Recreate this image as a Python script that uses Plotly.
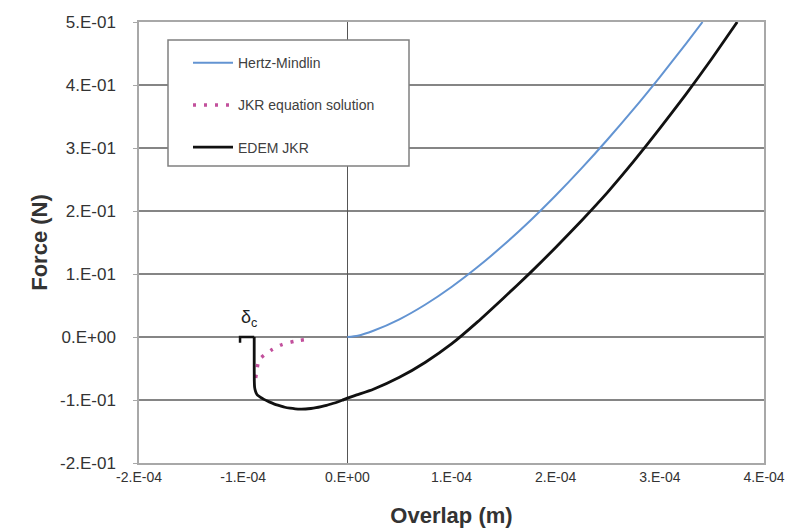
import plotly.graph_objects as go

# Overlap (m) and normal force (N) for each contact model
hertz_overlap = [0.0, 0.1e-4, 0.25e-4, 0.5e-4, 0.75e-4, 1.0e-4, 1.25e-4, 1.5e-4, 1.75e-4,
                 2.0e-4, 2.25e-4, 2.5e-4, 2.75e-4, 3.0e-4, 3.25e-4, 3.41e-4]
hertz_force = [0.0, 0.002, 0.0099, 0.0281, 0.0516, 0.0794, 0.111, 0.1459, 0.1838,
               0.2246, 0.268, 0.3139, 0.362, 0.4126, 0.4652, 0.5]

jkr_overlap = [-0.880e-4, -0.866e-4, -0.847e-4, -0.732e-4, -0.627e-4, -0.512e-4, -0.396e-4]
jkr_force = [-0.065, -0.050, -0.036, -0.021, -0.012, -0.007, -0.004]

edem_overlap = [-0.894e-4, -0.894e-4, -0.893e-4, -0.89e-4, -0.88e-4, -0.865e-4, -0.84e-4,
                -0.80e-4, -0.75e-4, -0.70e-4, -0.65e-4, -0.60e-4, -0.55e-4, -0.50e-4,
                -0.45e-4, -0.40e-4, -0.35e-4, -0.30e-4, -0.25e-4, -0.20e-4, -0.15e-4,
                -0.10e-4, -0.05e-4, 0.0, 0.1e-4, 0.25e-4, 0.5e-4, 0.75e-4, 1.0e-4,
                1.25e-4, 1.5e-4, 1.75e-4, 2.0e-4, 2.25e-4, 2.5e-4, 2.75e-4, 3.0e-4,
                3.25e-4, 3.5e-4, 3.743e-4]
edem_force = [0.0, -0.04, -0.07, -0.080, -0.087, -0.092, -0.095,
              -0.099, -0.103, -0.1065, -0.109, -0.1115, -0.113, -0.114,
              -0.1145, -0.1143, -0.1135, -0.1122, -0.1105, -0.1085, -0.106,
              -0.1035, -0.1005, -0.097, -0.0915, -0.083, -0.064, -0.040, -0.011,
              0.024, 0.062, 0.101, 0.142, 0.185, 0.230, 0.279, 0.331,
              0.385, 0.442, 0.5]

# Bracket marking the critical overlap delta_c
bracket_overlap = [-1.03e-4, -1.03e-4, -0.894e-4]
bracket_force = [-0.009, 0.0, 0.0]

x_ticks = [-2e-4, -1e-4, 0.0, 1e-4, 2e-4, 3e-4, 4e-4]
x_labels = ["-2.E-04", "-1.E-04", "0.E+00", "1.E-04", "2.E-04", "3.E-04", "4.E-04"]
y_ticks = [-0.2, -0.1, 0.0, 0.1, 0.2, 0.3, 0.4, 0.5]
y_labels = ["-2.E-01", "-1.E-01", "0.E+00", "1.E-01", "2.E-01", "3.E-01", "4.E-01", "5.E-01"]

FONT = "Liberation Sans, Arial, sans-serif"
GRID = "#858585"

fig = go.Figure()
fig.add_trace(go.Scatter(x=hertz_overlap, y=hertz_force, mode="lines", name="Hertz-Mindlin",
                         legendgroup="a", line=dict(color="#6394d2", width=2, shape="spline",
                                                    smoothing=0.6)))
fig.add_trace(go.Scatter(x=jkr_overlap, y=jkr_force, mode="lines", name="JKR equation solution",
                         legendgroup="b", line=dict(color="#c2509c", width=3.5, dash="3px,8px",
                                                    shape="spline", smoothing=0.6)))
fig.add_trace(go.Scatter(x=edem_overlap, y=edem_force, mode="lines", name="EDEM JKR",
                         legendgroup="c", line=dict(color="#111111", width=2.8, shape="spline",
                                                    smoothing=0.5)))
fig.add_trace(go.Scatter(x=bracket_overlap, y=bracket_force, mode="lines", showlegend=False,
                         line=dict(color="#111111", width=2.5), hoverinfo="skip"))

fig.add_annotation(x=-0.94e-4, y=0.0, yshift=19, xref="x", yref="y", showarrow=False,
                   text="δ<sub>c</sub>", font=dict(family=FONT, size=18, color="#222222"))

# Boxed legend panel
fig.add_shape(type="rect", xref="paper", yref="paper", layer="above",
              x0=0.0464, x1=0.432, y0=0.6735, y1=0.959,
              fillcolor="white", line=dict(color="#808080", width=1.5))

fig.update_xaxes(range=[-2e-4, 4e-4], tickvals=x_ticks, ticktext=x_labels, automargin=False,
                 showgrid=False, zeroline=True, zerolinecolor="#555555", zerolinewidth=1.2,
                 showline=True, mirror=True, linecolor="#a8a8a8", linewidth=1.5,
                 ticks="", tickfont=dict(family=FONT, size=14, color="#333333"),
                 title=dict(text="<b>Overlap (m)</b>", standoff=24,
                            font=dict(family=FONT, size=22, color="#333333")))
fig.update_yaxes(range=[-0.2, 0.5], tickvals=y_ticks, ticktext=y_labels, automargin=False,
                 showgrid=True, gridcolor=GRID, gridwidth=1.5, zeroline=False,
                 showline=True, mirror=True, linecolor="#a8a8a8", linewidth=1.5,
                 ticks="outside", ticklen=4, tickcolor="#a8a8a8", ticklabelstandoff=14,
                 tickfont=dict(family=FONT, size=17, color="#333333"),
                 title=dict(text="<b>Force (N)</b>", standoff=6,
                            font=dict(family=FONT, size=22, color="#333333")))

fig.update_layout(
    width=798, height=532,
    margin=dict(l=139, r=34, t=22, b=69),
    paper_bgcolor="white", plot_bgcolor="white",
    showlegend=True,
    legend=dict(x=0.0784, y=0.943, xanchor="left", yanchor="top",
                bgcolor="rgba(0,0,0,0)", borderwidth=0,
                tracegroupgap=21, itemwidth=40,
                font=dict(family=FONT, size=14, color="#404040")),
)

fig.write_html("out.html")
